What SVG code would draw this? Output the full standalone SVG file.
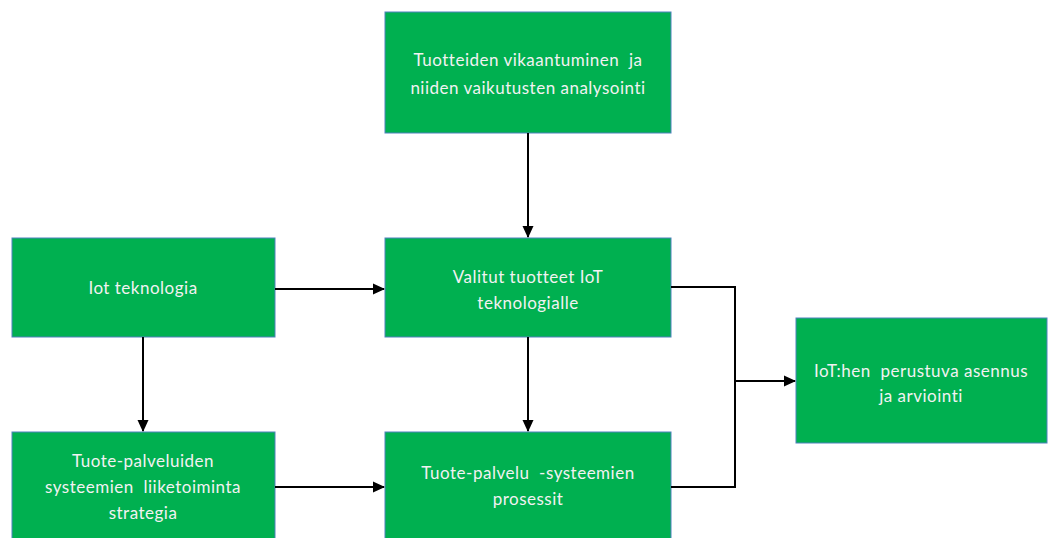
<svg xmlns="http://www.w3.org/2000/svg" width="1048" height="538" viewBox="0 0 1048 538">
<style>
.box{fill:#00b050;stroke:#4f81bd;stroke-width:1}
.t{font-family:Lato,"Open Sans",sans-serif;font-size:17px;letter-spacing:0.5px;fill:#f2f2f2;text-anchor:middle;white-space:pre}
.c{fill:none;stroke:#000;stroke-width:2}
</style>
<defs>
<marker id="ah" markerWidth="12" markerHeight="12" refX="11" refY="6" orient="auto" markerUnits="userSpaceOnUse"><path d="M0,0.5 L12,6 L0,11.5 z" fill="#000"/></marker>
</defs>
<rect width="1048" height="538" fill="#fff"/>
<g id="n1"><rect class="box" x="385" y="12" width="286" height="121"/><text class="t" x="528" y="66" xml:space="preserve">Tuotteiden vikaantuminen  ja</text><text class="t" x="528" y="94">niiden vaikutusten analysointi</text></g>
<g id="n2"><rect class="box" x="12" y="238" width="263" height="99"/><text class="t" x="143" y="294">Iot teknologia</text></g>
<g id="n3"><rect class="box" x="385" y="238" width="286" height="99"/><text class="t" x="528" y="283">Valitut tuotteet IoT</text><text class="t" x="528" y="309">teknologialle</text></g>
<g id="n4"><rect class="box" x="796" y="318" width="251" height="125"/><text class="t" x="921" y="377" xml:space="preserve">IoT:hen  perustuva asennus</text><text class="t" x="921" y="402">ja arviointi</text></g>
<g id="n5"><rect class="box" x="12" y="432" width="263" height="110"/><text class="t" x="143" y="467">Tuote-palveluiden</text><text class="t" x="143" y="493" xml:space="preserve">systeemien  liiketoiminta</text><text class="t" x="143" y="519">strategia</text></g>
<g id="n6"><rect class="box" x="385" y="432" width="286" height="110"/><text class="t" x="528" y="479" xml:space="preserve">Tuote-palvelu  -systeemien</text><text class="t" x="528" y="505">prosessit</text></g>
<g id="connectors">
<path class="c" d="M528,133 V237" marker-end="url(#ah)"/>
<path class="c" d="M275,289 H384" marker-end="url(#ah)"/>
<path class="c" d="M143,337 V431" marker-end="url(#ah)"/>
<path class="c" d="M528,337 V431" marker-end="url(#ah)"/>
<path class="c" d="M275,487 H384" marker-end="url(#ah)"/>
<path class="c" d="M671,287 H735 V487 H671"/>
<path class="c" d="M735,381 H795" marker-end="url(#ah)"/>
</g>
</svg>
